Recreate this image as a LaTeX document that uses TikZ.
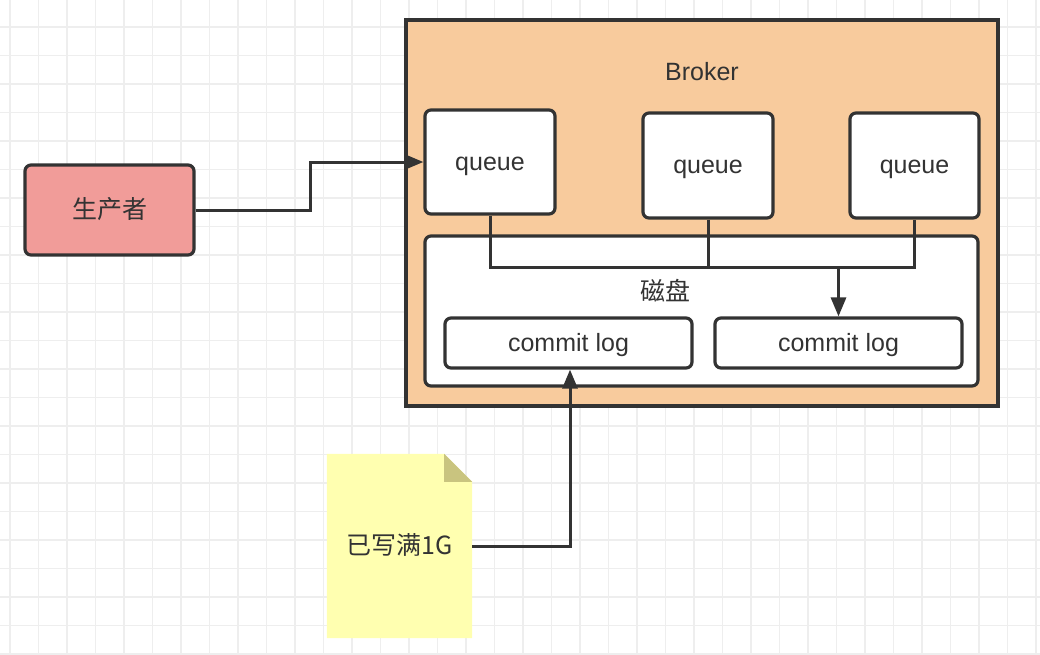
\documentclass[tikz,border=0pt]{standalone}
\usepackage{fontspec}
\setmainfont{Liberation Sans}
\newfontfamily\cjk{Noto Sans CJK SC}
\usetikzlibrary{arrows.meta,calc}

\definecolor{gridgray}{HTML}{EEEEEE}
\definecolor{ink}{HTML}{333333}
\definecolor{prodred}{HTML}{F19C99}
\definecolor{brokerpeach}{HTML}{F8CB9D}
\definecolor{notefill}{HTML}{FFFFB0}
\definecolor{notefold}{HTML}{C9C47F}

\tikzset{
    label/.style={text=ink, font=\fontsize{25}{29}\selectfont,
        text height=20pt, text depth=3.5pt, inner sep=0pt},
    box/.style={label, draw=ink, line width=3.2pt, rounded corners=6pt, fill=white},
    link/.style={draw=ink, line width=3pt},
    arr/.style={link, -{Triangle[length=19pt,width=15pt]}}
}

\begin{document}
\begin{tikzpicture}[x=1pt,y=-1pt]
    % Canvas and grid
    \useasboundingbox (0,0) rectangle (1040,654);
    \fill[white] (0,0) rectangle (1040,654);
    \foreach \i in {0,...,36} {
        \draw[gridgray, line width=1.2pt] (10+28.5*\i,0) -- (10+28.5*\i,654);
    }
    \foreach \j in {0,...,23} {
        \draw[gridgray, line width=1.2pt] (0,-1.5+28.5*\j) -- (1040,-1.5+28.5*\j);
    }

    % Producer
    \node[box, fill=prodred, minimum width=169pt, minimum height=90pt] (prod)
        at (109.5,210) {\cjk 生产者};

    % Broker with its queues
    \node[box, rounded corners=0pt, fill=brokerpeach, minimum width=592pt,
        minimum height=386pt] (broker) at (702,213) {};
    \node[label] (brokerlabel) at (702,72) {Broker};
    \node[box, minimum width=130pt, minimum height=104pt] (q1) at (490,162) {queue};
    \node[box, minimum width=130pt, minimum height=105pt] (q2) at (708,165.5) {queue};
    \node[box, minimum width=129pt, minimum height=105pt] (q3) at (914.5,165.5) {queue};

    % Disk with commit logs
    \node[box, minimum width=553pt, minimum height=150pt] (disk) at (701.5,311) {};
    \node[label] (disklabel) at (665,292) {\cjk 磁盘};
    \node[box, minimum width=247pt, minimum height=50pt] (log1) at (568.5,343) {commit log};
    \node[box, minimum width=247pt, minimum height=50pt] (log2) at (838.5,343) {commit log};

    % Note
    \node[minimum width=145pt, minimum height=184pt, inner sep=0pt] (note) at (399.5,546) {};
    \fill[notefill] (note.south west) |- ($(note.north east)+(-28,0)$)
        -- ($(note.north east)+(0,28)$) |- cycle;
    \fill[notefold] ($(note.north east)+(-28,0)$) -- ($(note.north east)+(0,28)$)
        -- ($(note.north east)+(-28,28)$) -- cycle;
    \node[label] (notelabel) at (note.center) {\cjk 已写满1G};

    % Connectors
    \coordinate (bus) at (0,267);
    \draw[arr] (prod.east) -- ++(115,0) |- (q1.west);
    \draw[link] (q1.south) |- (q3.south |- bus) -- (q3.south);
    \draw[link] (q2.south) -- (q2.south |- bus);
    \draw[arr] (log2.north |- bus) -- (log2.north);
    \draw[arr] (note.east) -| ($(log1.south)+(1.5,0)$);
\end{tikzpicture}
\end{document}
